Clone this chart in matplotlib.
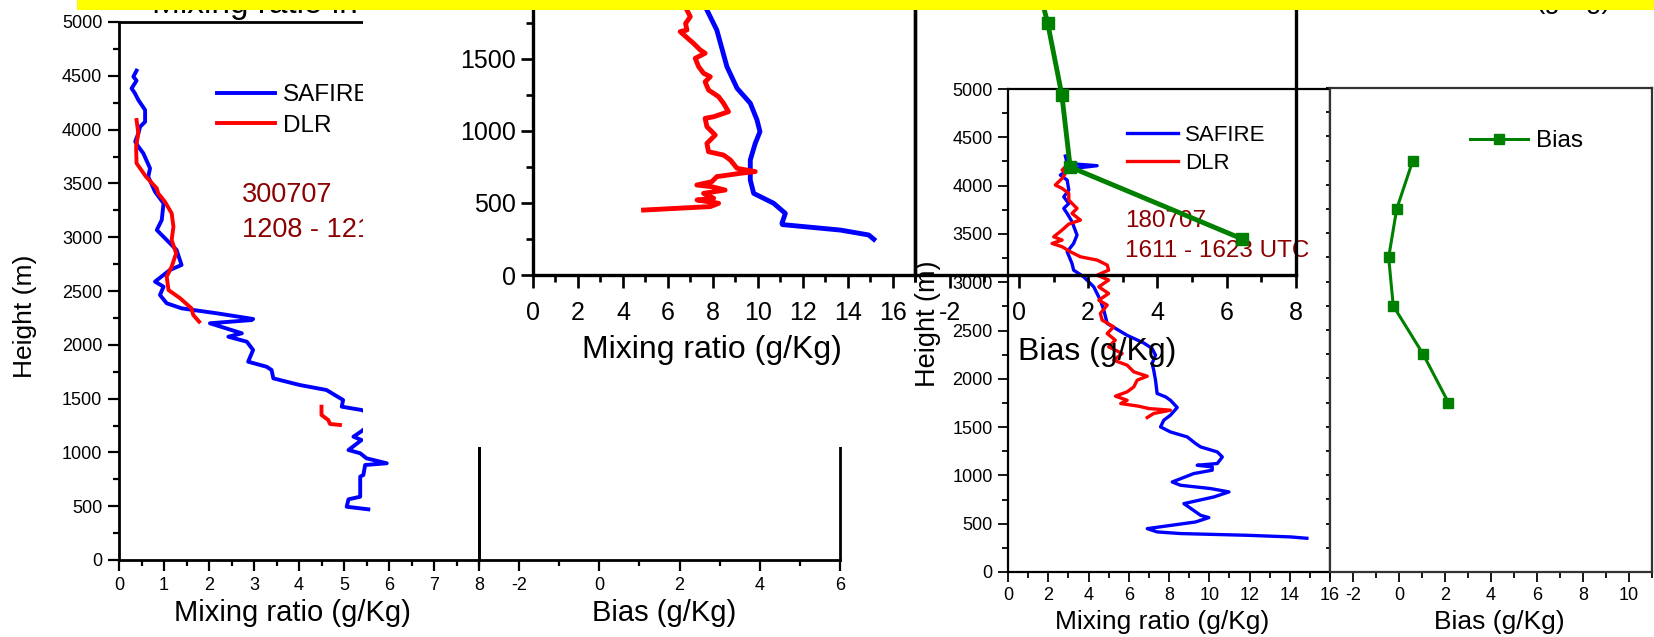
import numpy as np
import matplotlib
matplotlib.use("Agg")
import matplotlib.pyplot as plt
from matplotlib.patches import Rectangle
from matplotlib.ticker import MultipleLocator

nan = np.nan

# 300707 flight, mixing ratio (g/Kg) against height (m)
a_safire_x = [0.39, 0.32, 0.39, 0.28, 0.35, 0.43, 0.58, 0.58, 0.47, 0.43, 0.36, 0.43, 0.54, 0.69,
              0.65, 0.80, 0.99, 0.95, 0.84, 1.06, 1.28, 1.39, 1.13, 0.80, 0.99, 0.91, 1.06, 1.39,
              2.17, 2.98, 2.95, 2.02, 2.73, 2.43, 2.84, 2.98, 2.87, 3.28, 3.39, 3.43, 4.02, 4.61,
              4.98, 4.95, 5.39, 5.70, 5.60, 5.40, 5.21, 5.39, 5.10, 5.36, 5.50, 5.95, 5.47, 5.43,
              5.36, 5.36, 5.10, 5.06, 5.54]
a_safire_h = [4548, 4492, 4455, 4383, 4340, 4275, 4182, 4073, 4027, 3966, 3888, 3842, 3780, 3640,
              3562, 3423, 3315, 3160, 3067, 2974, 2881, 2742, 2695, 2587, 2540, 2463, 2386, 2339,
              2293, 2240, 2230, 2200, 2107, 2075, 2029, 1952, 1843, 1796, 1766, 1688, 1626, 1580,
              1487, 1425, 1394, 1340, 1270, 1200, 1146, 1115, 1022, 992, 945, 899, 883, 790,
              775, 588, 564, 495, 471]
a_dlr_x = [0.39, 0.43, 0.38, 0.39, 0.60, 0.84, 0.87, 1.02, 1.17, 1.21, 1.17, 1.27, 1.17, 1.06,
           1.10, 1.36, 1.61, 1.65, 1.78, nan, 4.50, 4.50, 4.65, 4.69, 4.91]
a_dlr_h = [4089, 3965, 3842, 3687, 3562, 3454, 3408, 3330, 3222, 3098, 2974, 2850, 2726, 2633,
           2509, 2432, 2339, 2277, 2215, nan, 1425, 1348, 1301, 1264, 1255]

# low-level profile, mixing ratio (g/Kg) against height (m)
c_safire_x = [7.50, 7.74, 8.18, 8.63, 9.08, 9.67, 9.97, 10.10, 9.89, 9.67, 9.67, 9.82, 10.71,
              11.23, 11.08, 11.10, 13.68, 14.94, 15.17]
c_safire_h = [1950, 1840, 1701, 1447, 1297, 1193, 1076, 995, 914, 799, 660, 567, 498,
              428, 359, 350, 312, 278, 248]
c_dlr_x = [6.85, 7.00, 6.79, 6.85, 6.55, 7.14, 7.44, 7.66, 7.22, 7.37, 7.59, 7.89, 7.66, 7.81,
           8.26, 8.48, 8.70, 8.04, 7.66, 7.74, 8.11, 7.74, 7.81, 8.48, 8.78, 9.08, 9.89, 9.22,
           8.18, 7.96, 7.29, 7.96, 8.55, 7.59, 8.04, 7.30, 8.26, 7.89, 4.92]
c_dlr_h = [1840, 1794, 1747, 1701, 1690, 1609, 1563, 1540, 1505, 1447, 1401, 1377, 1342, 1285,
           1238, 1192, 1134, 1099, 1088, 1030, 972, 914, 856, 833, 799, 741, 718, 706,
           683, 648, 625, 613, 590, 567, 533, 521, 498, 475, 451]
c_bias_h = [250, 750, 1250, 1750, 2250]
c_bias_x = [6.45, 1.48, 1.24, 0.83, 0.30]

# 180707 flight, 1611 - 1623 UTC
d_safire_x = [2.85, 2.94, 4.43, 3.26, 2.85, 2.60, 2.94, 3.02, 2.77, 3.02, 2.77, 2.94, 3.18, 3.43,
              3.26, 2.94, 3.18, 3.26, 3.76, 4.26, 4.59, 4.76, 4.93, 5.92, 6.75, 7.16, 7.33, 7.16,
              7.24, 7.33, 7.41, 7.83, 8.07, 8.41, 8.07, 7.74, 7.58, 8.07, 8.91, 9.32, 9.57, 10.40,
              10.65, 10.40, 9.40, 10.15, 10.15, 9.23, 8.16, 8.57, 10.06, 10.98, 10.23, 8.74, 9.57,
              9.98, 9.32, 6.92, 7.41, 8.57, 11.89, 14.05, 14.85]
d_safire_h = [4306, 4230, 4206, 4178, 4143, 4109, 4057, 3954, 3884, 3815, 3764, 3712, 3626, 3488,
              3401, 3315, 3194, 3125, 3056, 2952, 2814, 2711, 2573, 2450, 2370, 2314, 2245, 2159,
              2089, 1986, 1848, 1813, 1778, 1703, 1623, 1571, 1502, 1450, 1398, 1330, 1295, 1243,
              1191, 1123, 1105, 1088, 1054, 1019, 932, 898, 864, 829, 777, 708, 587,
              563, 518, 449, 415, 398, 380, 363, 349]
d_dlr_x = [2.85, 2.69, 2.85, 2.69, 2.35, 2.69, 3.02, 3.02, 3.18, 3.43, 3.18, 3.60, 3.02, 2.69,
           2.27, 2.69, 2.19, 2.69, 3.10, 3.60, 4.43, 4.93, 5.00, 4.43, 5.00, 4.51, 5.00, 4.51,
           4.93, 4.59, 4.68, 5.25, 4.93, 5.33, 5.00, 5.67, 5.25, 5.92, 6.25, 6.92, 6.42, 6.25,
           5.92, 5.34, 5.92, 5.60, 6.50, 7.00, 8.07, 7.24, 6.92]
d_dlr_h = [4195, 4161, 4127, 4075, 4006, 3971, 3919, 3850, 3816, 3764, 3712, 3643, 3602, 3540,
           3470, 3436, 3401, 3367, 3315, 3263, 3229, 3177, 3125, 3073, 3022, 2952, 2883, 2814,
           2763, 2676, 2607, 2538, 2469, 2400, 2331, 2262, 2193, 2141, 2072, 2027, 1986, 1916,
           1865, 1820, 1778, 1744, 1716, 1692, 1675, 1641, 1599]
e_bias_h = [4250, 3750, 3250, 2750, 2250, 1750]
e_bias_x = [0.60, -0.10, -0.45, -0.25, 1.05, 2.15]

BLUE, RED, GREEN, DARKRED = '#0000ff', '#ff0000', '#008000', '#8b0000'
W, H, DPI = 1654, 637, 100

plt.rcParams['font.family'] = ['Liberation Sans', 'DejaVu Sans']
plt.rcParams['axes.unicode_minus'] = False

fig = plt.figure(figsize=(W / DPI, H / DPI), dpi=DPI)


def box(x0, x1, top, bottom):
    return [x0 / W, 1 - bottom / H, (x1 - x0) / W, (bottom - top) / H]


def fx(x):
    return x / W


def fy(y):
    return 1 - y / H


def style(ax, size, spine_w, major, minor, pad):
    ax.tick_params(which='both', direction='out', width=spine_w * 0.8, labelsize=size, pad=pad)
    ax.tick_params(which='major', length=major)
    ax.tick_params(which='minor', length=minor)
    for s in ax.spines.values():
        s.set_linewidth(spine_w)


# left pair: mixing ratio + bias, 300707
axA = fig.add_axes(box(119, 479, 22, 560), zorder=1)
axA.plot(a_safire_x, a_safire_h, color=BLUE, lw=2.8, label='SAFIRE')
axA.plot(a_dlr_x, a_dlr_h, color=RED, lw=2.8, label='DLR')
axA.set_xlim(0, 8)
axA.set_ylim(0, 5000)
axA.xaxis.set_major_locator(MultipleLocator(1))
axA.xaxis.set_minor_locator(MultipleLocator(0.5))
axA.yaxis.set_major_locator(MultipleLocator(500))
axA.yaxis.set_minor_locator(MultipleLocator(250))
style(axA, 13, 2.0, 8, 4.5, 4)
axA.legend(loc='upper left', bbox_to_anchor=(fx(217), fy(84)), bbox_transform=fig.transFigure,
           frameon=False, fontsize=17.5, handlelength=2.4, handletextpad=0.33,
           labelspacing=0.35, borderpad=0, borderaxespad=0)
axA.text(fx(242), fy(195), '300707', transform=fig.transFigure, color=DARKRED,
         fontsize=19.5, va='center')
axA.text(fx(242), fy(230), '1208 - 1219 UTC', transform=fig.transFigure, color=DARKRED,
         fontsize=19.5, va='center')

axB = fig.add_axes(box(479, 840, 22, 560), zorder=1.5)
axB.set_facecolor('none')
axB.set_xlim(-3, 6)
axB.set_ylim(0, 5000)
axB.xaxis.set_major_locator(MultipleLocator(2))
axB.xaxis.set_minor_locator(MultipleLocator(1))
axB.set_yticks([])
style(axB, 13, 2.0, 8, 4.5, 4)

fig.text(fx(152), fy(13), 'Mixing ratio in', fontsize=24, va='baseline', zorder=2)
fig.text(fx(25), fy(316), 'Height (m)', fontsize=19, rotation=90, ha='center', va='center', zorder=2)
fig.text(fx(292), fy(613), 'Mixing ratio (g/Kg)', fontsize=21, ha='center', va='center', zorder=2)
fig.text(fx(664), fy(613), 'Bias (g/Kg)', fontsize=21, ha='center', va='center', zorder=2)

# white backdrop of the low-level pair
fig.add_artist(Rectangle((fx(363), fy(447)), (915 - 363) / W, 447 / H, transform=fig.transFigure,
                         facecolor='white', edgecolor='none', zorder=3))

# low-level pair: mixing ratio + bias
axC = fig.add_axes(box(533, 915, -13, 275), zorder=4)
axC.set_facecolor('none')
axC.plot(c_safire_x, c_safire_h, color=BLUE, lw=3.5)
axC.plot(c_dlr_x, c_dlr_h, color=RED, lw=3.5)
axC.set_xlim(0, 17)
axC.set_ylim(0, 2000)
axC.xaxis.set_major_locator(MultipleLocator(2))
axC.xaxis.set_minor_locator(MultipleLocator(1))
axC.yaxis.set_major_locator(MultipleLocator(500))
axC.yaxis.set_minor_locator(MultipleLocator(250))
style(axC, 18, 2.4, 9, 5, 3)
axC.tick_params(axis='x', pad=10)
fig.text(fx(712), fy(358), 'Mixing ratio (g/Kg)', fontsize=23,
         ha='center', va='baseline', zorder=4.5)

# 180707 profile
axD = fig.add_axes(box(1008, 1330, 89, 572), zorder=5)
axD.set_facecolor('none')
axD.plot(d_safire_x, d_safire_h, color=BLUE, lw=2.4, label='SAFIRE')
axD.plot(d_dlr_x, d_dlr_h, color=RED, lw=2.4, label='DLR')
axD.set_xlim(0, 16)
axD.set_ylim(0, 5000)
axD.xaxis.set_major_locator(MultipleLocator(2))
axD.xaxis.set_minor_locator(MultipleLocator(1))
axD.yaxis.set_major_locator(MultipleLocator(500))
axD.yaxis.set_minor_locator(MultipleLocator(250))
style(axD, 13, 1.6, 7, 4, 4)
axD.legend(loc='upper left', bbox_to_anchor=(fx(1127), fy(125)), bbox_transform=fig.transFigure,
           frameon=False, fontsize=16, handlelength=2.3, handletextpad=0.3,
           labelspacing=0.32, borderpad=0, borderaxespad=0)
axD.text(fx(1125), fy(221), '180707', transform=fig.transFigure, color=DARKRED,
         fontsize=17.5, va='center')
axD.text(fx(1125), fy(251), '1611 - 1623 UTC', transform=fig.transFigure, color=DARKRED,
         fontsize=17.5, va='center')
fig.text(fx(928), fy(324), 'Height (m)', fontsize=19.5, rotation=90, ha='center', va='center', zorder=5)
fig.text(fx(1162), fy(622), 'Mixing ratio (g/Kg)', fontsize=19, ha='center', va='center', zorder=5)

# bias of the low-level pair, drawn over the 180707 profile
axF = fig.add_axes(box(915, 1296, -13, 275), zorder=6)
axF.set_facecolor('none')
axF.plot(c_bias_x, c_bias_h, color=GREEN, lw=3.5, marker='s', ms=8)
axF.set_xlim(-3, 8)
axF.set_ylim(0, 2000)
axF.xaxis.set_major_locator(MultipleLocator(2))
axF.xaxis.set_minor_locator(MultipleLocator(1))
axF.set_yticks([])
style(axF, 18, 2.4, 9, 5, 10)
fig.text(fx(1097), fy(360), 'Bias (g/Kg)', fontsize=23,
         ha='center', va='baseline', zorder=6.5)

# bias of the 180707 flight
axE = fig.add_axes(box(1330, 1652, 88, 572), zorder=7)
axE.plot(e_bias_x, e_bias_h, color=GREEN, lw=2.2, marker='s', ms=6.5, label='Bias')
axE.set_xlim(-3, 11)
axE.set_ylim(0, 5000)
axE.xaxis.set_major_locator(MultipleLocator(2))
axE.xaxis.set_minor_locator(MultipleLocator(1))
axE.yaxis.set_major_locator(MultipleLocator(250))
axE.tick_params(axis='y', labelleft=False)
style(axE, 13, 1.6, 7, 4, 4)
axE.tick_params(axis='y', length=3)
for s in axE.spines.values():
    s.set_color('#333333')
axE.legend(loc='upper left', bbox_to_anchor=(fx(1470), fy(130)), bbox_transform=fig.transFigure,
           frameon=False, fontsize=17.5, handlelength=2.4, handletextpad=0.3,
           borderpad=0, borderaxespad=0, numpoints=1)
fig.text(fx(1499), fy(622), 'Bias (g/Kg)', fontsize=19, ha='center', va='center', zorder=8)

fig.text(fx(1535), fy(8), '(g/Kg)', fontsize=20, va='baseline', zorder=8)
fig.add_artist(Rectangle((fx(77), fy(10)), (W - 77) / W, 10 / H, transform=fig.transFigure,
                         facecolor='#ffff00', edgecolor='none', zorder=10))

fig.savefig('out.png', dpi=DPI)
